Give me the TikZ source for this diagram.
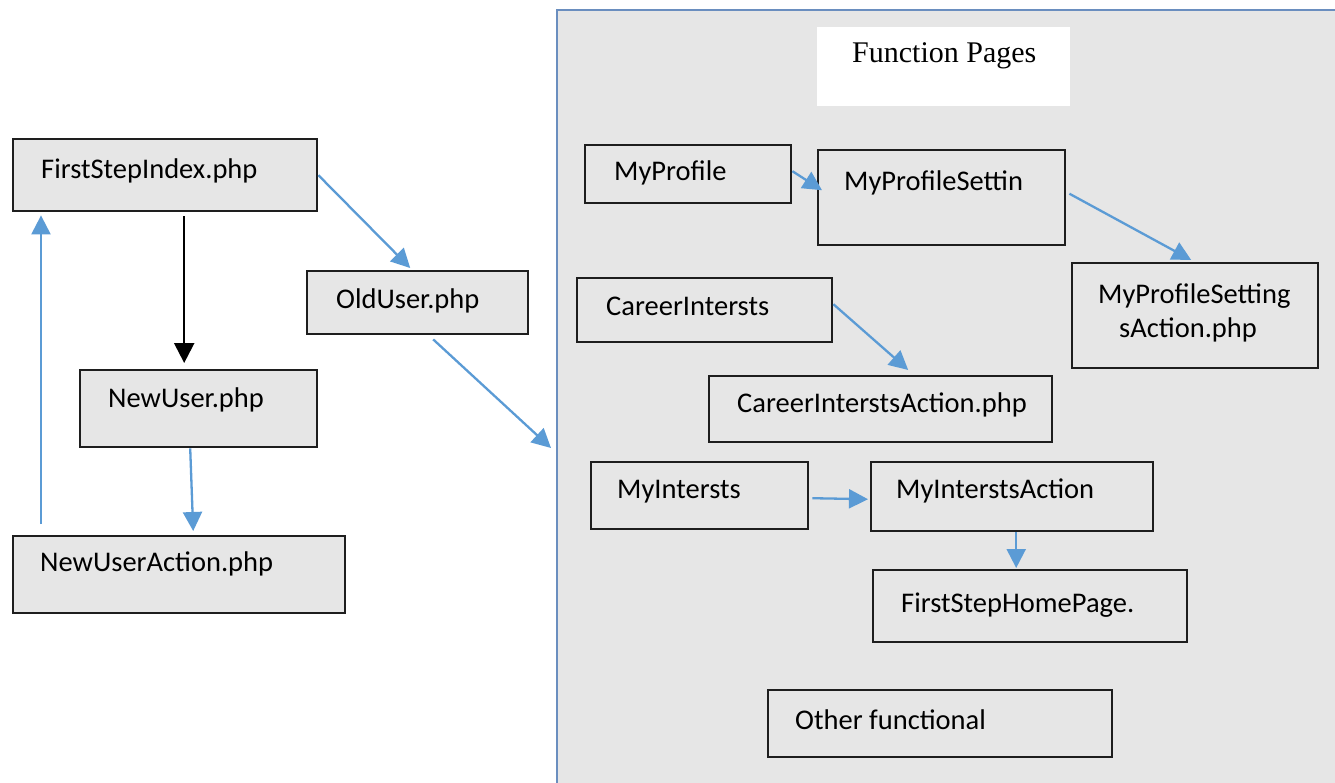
\documentclass[tikz,border=0pt]{standalone}
\usepackage{fontspec}
\setmainfont{Carlito}
\newfontfamily\titlefont{Liberation Serif}
\usetikzlibrary{arrows.meta,calc}
\definecolor{boxgray}{HTML}{E6E6E6}
\definecolor{arrblue}{HTML}{5B9BD5}
\definecolor{frameblue}{HTML}{6A8EBF}
\definecolor{edge}{HTML}{1E1E1E}
\begin{document}
\begin{tikzpicture}[x=1pt,y=-1pt,
  box/.style={draw=edge, line width=2.4pt, fill=boxgray, anchor=north west, inner sep=0pt},
  ibox/.style={draw=edge, line width=2.4pt, anchor=north west, inner sep=0pt},
  txt/.style={anchor=base west, inner sep=0pt, font=\fontsize{28.5}{34}\selectfont},
  blue arrow/.style={draw=arrblue, line width=2.3pt, -{Triangle[length=19pt,width=19pt]}},
  black arrow/.style={draw=black, line width=2.3pt, -{Triangle[length=20pt,width=20pt]}}]
\useasboundingbox (0,0) rectangle (1335,782);
\fill[white] (0,0) rectangle (1335,782);
% container
\node[draw=frameblue, line width=2pt, fill=boxgray, anchor=north west, inner sep=0pt,
      minimum width=820pt, minimum height=820pt] (fp) at (556,9) {};
\node[fill=white, anchor=north west, inner sep=0pt, minimum width=253pt, minimum height=79pt] (title) at (817,27) {};
\node[anchor=base west, inner sep=0pt, font=\titlefont\fontsize{30}{36}\selectfont] (titlet) at (852,62) {Function Pages};
% left boxes
\node[box, minimum width=304pt, minimum height=72pt] (fsi) at (12,138) {};
\node[box, minimum width=221pt, minimum height=63pt] (olduser) at (306,270) {};
\node[box, minimum width=237pt, minimum height=77pt] (newuser) at (79,369) {};
\node[box, minimum width=332pt, minimum height=77pt] (nua) at (12,535) {};
\node[txt] (fsit) at (41,178) {FirstStepIndex.php};
\node[txt] (oldusert) at (336,308) {OldUser.php};
\node[txt] (newusert) at (108,407) {NewUser.php};
\node[txt] (nuat) at (40,571) {NewUserAction.php};
% right boxes
\node[ibox, minimum width=206pt, minimum height=58pt] (mp) at (584,144) {};
\node[ibox, minimum width=247pt, minimum height=95pt] (mps) at (817,149) {};
\node[ibox, minimum width=246pt, minimum height=105pt] (mpsa) at (1071,262) {};
\node[ibox, minimum width=255pt, minimum height=64pt] (ci) at (576,277) {};
\node[ibox, minimum width=343pt, minimum height=66pt] (cia) at (708,375) {};
\node[ibox, minimum width=217pt, minimum height=67pt] (mi) at (590,461) {};
\node[ibox, minimum width=282pt, minimum height=69pt] (mia) at (870,461) {};
\node[ibox, minimum width=314pt, minimum height=72pt] (fshp) at (872,569) {};
\node[ibox, minimum width=344pt, minimum height=67pt] (other) at (767,689) {};
\node[txt] (mpt) at (614,180) {MyProfile};
\node[txt] (mpst) at (844,190) {MyProfileSettin};
\node[txt] (mpsat1) at (1098,303) {MyProfileSetting};
\node[txt] (mpsat2) at (1119,337) {sAction.php};
\node[txt] (cit) at (606,315) {CareerIntersts};
\node[txt] (ciat) at (737,412) {CareerInterstsAction.php};
\node[txt] (mit) at (617,498) {MyIntersts};
\node[txt] (miat) at (896,498) {MyInterstsAction};
\node[txt] (fshpt) at (901,612) {FirstStepHomePage.};
\node[txt] (othert) at (795,729) {Other functional};
% connectors
\coordinate (fpin) at (551,448);
\draw[black arrow] ($(fsi.south)+(19,4)$) -- ($(newuser.north)+(-14.5,-6)$);
\draw[blue arrow] (fsi.east) -- ($(olduser.north)+(-7.5,-2)$);
\draw[blue arrow] ($(olduser.south)+(15.5,4)$) -- (fpin);
\draw[blue arrow] ($(newuser.south)+(-8.5,0)$) -- ($(nua.north)+(14,-4)$);
\draw[blue arrow] ($(nua.north west)+(29,-11)$) -- ($(fsi.south west)+(29,3)$);
\draw[blue arrow] ($(mp.east)+(0,-3)$) -- ($(mps.west)+(5,-7.5)$);
\draw[blue arrow] ($(mps.east)+(3,-4)$) -- ($(mpsa.north)+(-4,-2)$);
\draw[blue arrow] ($(ci.east)+(0,-6)$) -- ($(cia.north)+(27.5,-5)$);
\draw[blue arrow] ($(mi.east)+(3,2.5)$) -- ($(mia.west)+(-2,2.5)$);
\draw[blue arrow] ($(mia.south)+(4,0)$) -- ($(fshp.north)+(-14,-1)$);
\end{tikzpicture}
\end{document}
